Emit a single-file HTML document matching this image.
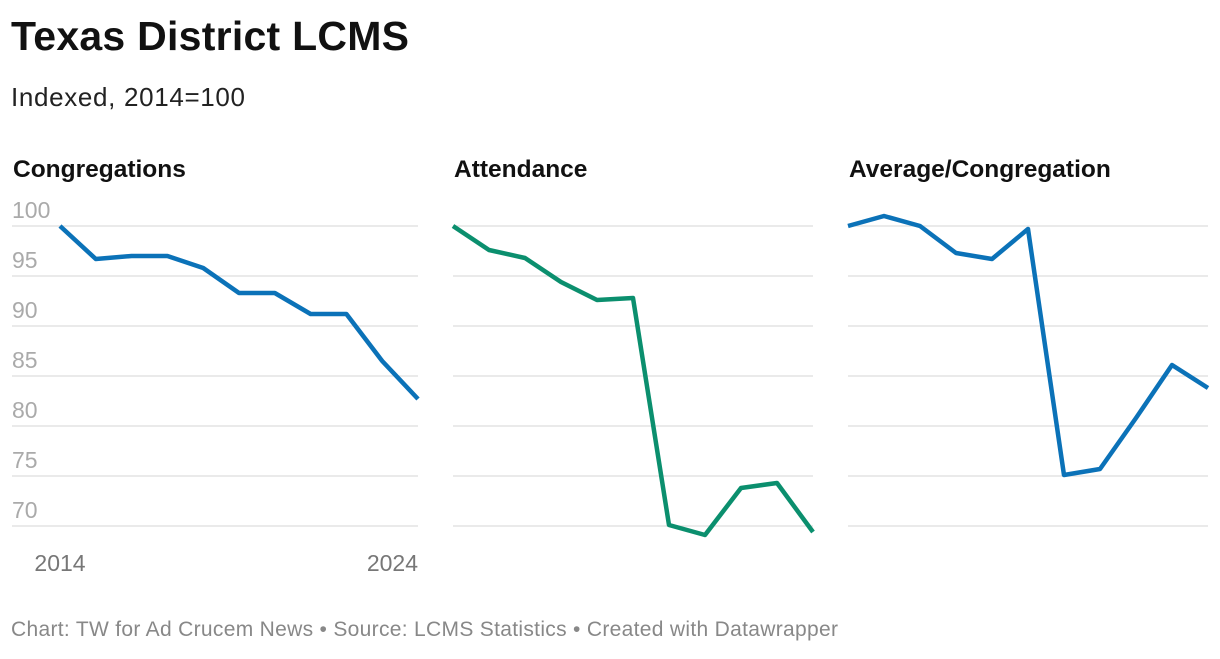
<!DOCTYPE html>
<html><head><meta charset="utf-8"><style>
body{margin:0;background:#fff;font-family:"Liberation Sans",sans-serif;}
svg text{font-family:"Liberation Sans",sans-serif;}
</style></head><body>
<svg width="1220" height="654">
<text x="11" y="50" font-size="41" font-weight="bold" fill="#111" textLength="398">Texas District LCMS</text>
<text x="11" y="106" font-size="26" fill="#222" textLength="234">Indexed, 2014=100</text>
<g id="panels"></g>
<text x="11" y="636" font-size="21" fill="#888" textLength="827">Chart: TW for Ad Crucem News • Source: LCMS Statistics • Created with Datawrapper</text>
</svg>
<script>
const years=[2014,2015,2016,2017,2018,2019,2020,2021,2022,2023,2024];
const congregations=[100,96.7,97,97,95.8,93.3,93.3,91.2,91.2,86.5,82.7];
const attendance=[100,97.6,96.8,94.4,92.6,92.8,70.1,69.1,73.8,74.3,69.4];
const averagePerCong=[100,101,100,97.3,96.7,99.7,75.1,75.7,80.8,86.1,83.8];
const yTicks=[100,95,90,85,80,75,70];
const xTickLabels=[2014,2024];
const panelTitles=["Congregations","Attendance","Average/Congregation"];
const NS="http://www.w3.org/2000/svg";
const g=document.getElementById('panels');
const y=v=>226+(100-v)*10;
const panels=[{x0:60,x1:418,gl:12,data:congregations,color:"#0b72b8",name:"congregations"},
{x0:453,x1:813,gl:453,data:attendance,color:"#0b8f6e",name:"attendance"},
{x0:848,x1:1208,gl:848,data:averagePerCong,color:"#0b72b8",name:"average-congregation"}];
function mk(t,a){const e=document.createElementNS(NS,t);for(const k in a)e.setAttribute(k,a[k]);g.appendChild(e);return e;}
panels.forEach((p,pi)=>{
  const x=i=>p.x0+(p.x1-p.x0)*(i/(years.length-1));
  const tt=mk('text',{x:pi==0?13:p.gl+1,y:177,'font-size':24.5,'font-weight':'bold',fill:'#111'});
  tt.textContent=panelTitles[pi];
  
  
  yTicks.forEach(v=>{
    const l=mk('line',{x1:p.gl,x2:p.x1,y1:y(v),y2:y(v),stroke:'#dddddd','stroke-width':1.3});
    
    
    if(pi==0){const t=mk('text',{x:12,y:y(v)-8,'font-size':23,fill:'#aaa'});t.textContent=v;
      
      }
  });
  if(pi==0){xTickLabels.forEach((yr,k)=>{const i=years.indexOf(yr);
    const t=mk('text',{x:k==0?x(i):p.x1,y:571,'font-size':23,fill:'#777','text-anchor':k==0?'middle':'end'});t.textContent=yr;
    
    });}
  const d=p.data.map((v,i)=>(i?'L':'M')+x(i)+','+y(v)).join(' ');
  const path=mk('path',{d:d,fill:'none',stroke:p.color,'stroke-width':4.5,'stroke-linejoin':'round'});
  
  
});
</script>
</body></html>
